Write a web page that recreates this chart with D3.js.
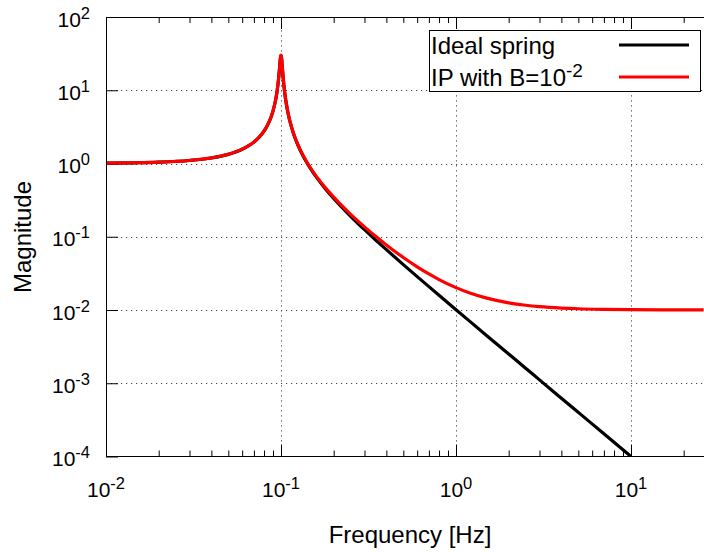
<!DOCTYPE html>
<html>
<head>
<meta charset="utf-8">
<script src="https://cdn.jsdelivr.net/npm/d3@7"></script>
<style>
  html, body { margin: 0; padding: 0; background: #fff; overflow: hidden; }
  svg { display: block; font-family: "Liberation Sans", Arial, Helvetica, sans-serif; }
</style>
</head>
<body>
<svg id="chart" width="704" height="552"></svg>
<script>
// ---- data ----
const frequency = [0.01,0.015,0.02,0.03,0.04,0.05,0.06,0.07,0.075,0.08,0.082,0.085,0.088,0.09,0.093,0.095,0.097,0.098,0.099,0.0995,0.1,0.1005,0.101,0.102,0.103,0.105,0.107,0.11,0.115,0.12,0.125,0.13,0.14,0.15,0.16,0.18,0.2,0.25,0.3,0.35,0.4,0.5,0.6,0.7,0.8,1,1.2,1.5,2,2.5,3,4,5,7,10,15,20,26];
const idealSpring = [1.0101,1.023,1.0417,1.0989,1.1905,1.3333,1.5625,1.957,2.279,2.766,3.037,3.585,4.385,5.185,7.187,9.706,14.74,19.32,25.77,28.76,30.0,28.75,25.70,19.10,14.41,9.278,6.726,4.703,3.084,2.266,1.775,1.449,1.041,0.800,0.641,0.4464,0.3333,0.1905,0.125,0.08889,0.0667,0.04167,0.02857,0.02083,0.01587,0.0101,0.006993,0.004464,0.002506,0.001603,0.001112,0.0006254,0.0004002,0.0002041,0.0001,null,null,null];
const ipWithB = [1.0102,1.0232,1.0421,1.0999,1.1924,1.3367,1.5681,1.966,2.292,2.784,3.057,3.611,4.419,5.227,7.249,9.794,14.88,19.51,26.02,29.04,30.3,29.04,25.96,19.30,14.56,9.380,6.803,4.760,3.125,2.299,1.803,1.4735,1.0615,0.818,0.6574,0.4609,0.3467,0.2024,0.1363,0.09978,0.07733,0.05208,0.03886,0.03104,0.02603,0.0202,0.01706,0.01451,0.01253,0.01162,0.01112,0.01063,0.0104,0.01021,0.0101,0.01005,0.01003,0.01002];
const xMajorTicks = [0.01, 0.1, 1, 10];
const xTickExponents = ["-2", "-1", "0", "1"];
const yMajorTicks = [100, 10, 1, 0.1, 0.01, 0.001, 0.0001];
const yTickExponents = ["2", "1", "0", "-1", "-2", "-3", "-4"];
const xMinorTicks = [0.02,0.03,0.04,0.05,0.06,0.07,0.08,0.09,0.2,0.3,0.4,0.5,0.6,0.7,0.8,0.9,2,3,4,5,6,7,8,9,20,30];
const seriesNames = ["Ideal spring", "IP with B=10"];
const seriesSup = ["", "-2"];
const seriesColors = ["#000000", "#ff0000"];

// ---- layout ----
const mLeft = 106, mTop = 17, mBottom = 456.5, plotRight = 712;
const svg = d3.select("#chart");

const x = d3.scaleLog().domain([0.01, 10]).range([mLeft, 631]);
const y = d3.scaleLog().domain([1e-4, 100]).range([mBottom, mTop]);

// clip
svg.append("defs").append("clipPath").attr("id", "plotclip")
  .append("rect").attr("x", mLeft).attr("y", mTop).attr("width", plotRight - mLeft).attr("height", mBottom - mTop);

// grid
const grid = svg.append("g").attr("stroke", "#444").attr("stroke-width", 1).attr("stroke-dasharray", "1.2,3.8");
grid.selectAll("line.gx").data(xMajorTicks.filter(d => d > 0.01)).enter().append("line")
  .attr("x1", d => Math.round(x(d)) + 0.5).attr("x2", d => Math.round(x(d)) + 0.5)
  .attr("y1", mBottom).attr("y2", mTop);
grid.selectAll("line.gy").data(yMajorTicks.filter(d => d < 100 && d > 1e-4)).enter().append("line")
  .attr("y1", d => Math.round(y(d)) + 0.5).attr("y2", d => Math.round(y(d)) + 0.5)
  .attr("x1", mLeft).attr("x2", plotRight);

// axes via d3.axis (ticks inward)
const fmtNone = () => "";
svg.append("g").attr("transform", `translate(0,${mBottom})`)
  .call(d3.axisBottom(x).tickValues(xMajorTicks).tickSizeInner(-12).tickSizeOuter(0).tickFormat(fmtNone))
  .call(g => g.select(".domain").remove());
svg.append("g").attr("transform", `translate(0,${mBottom})`)
  .call(d3.axisBottom(x).tickValues(xMinorTicks).tickSizeInner(-6).tickSizeOuter(0).tickFormat(fmtNone))
  .call(g => g.select(".domain").remove());
svg.append("g").attr("transform", `translate(0,${mTop})`)
  .call(d3.axisTop(x).tickValues(xMajorTicks).tickSizeInner(-12).tickSizeOuter(0).tickFormat(fmtNone))
  .call(g => g.select(".domain").remove());
svg.append("g").attr("transform", `translate(0,${mTop})`)
  .call(d3.axisTop(x).tickValues(xMinorTicks).tickSizeInner(-6).tickSizeOuter(0).tickFormat(fmtNone))
  .call(g => g.select(".domain").remove());
svg.append("g").attr("transform", `translate(${mLeft},0)`)
  .call(d3.axisLeft(y).tickValues(yMajorTicks).tickSizeInner(-12).tickSizeOuter(0).tickFormat(fmtNone))
  .call(g => g.select(".domain").remove());
svg.selectAll(".tick line").attr("stroke", "#000").attr("stroke-width", 1);

// tick labels
const xl = svg.append("g").attr("font-size", 21).attr("fill", "#000").attr("text-anchor", "middle");
xMajorTicks.forEach((v, i) => {
  const t = xl.append("text").attr("x", x(v)).attr("y", 497);
  t.append("tspan").text("10");
  t.append("tspan").attr("font-size", 16.5).attr("dy", -8).text(xTickExponents[i]);
});
const yl = svg.append("g").attr("font-size", 21).attr("fill", "#000").attr("text-anchor", "end");
yMajorTicks.forEach((v, i) => {
  const t = yl.append("text").attr("x", 90).attr("y", y(v) + 9.5);
  t.append("tspan").text("10");
  t.append("tspan").attr("font-size", 16.5).attr("dy", -8).text(yTickExponents[i]);
});

// axis titles
svg.append("text").attr("x", 410).attr("y", 543).attr("text-anchor", "middle")
  .attr("font-size", 24).text("Frequency [Hz]");
svg.append("text").attr("transform", "translate(31,237) rotate(-90)").attr("text-anchor", "middle")
  .attr("font-size", 24).text("Magnitude");

// curves
const line = d3.line()
  .defined(d => d[1] != null)
  .curve(d3.curveMonotoneX)
  .x(d => x(d[0])).y(d => y(d[1]));
const plot = svg.append("g").attr("clip-path", "url(#plotclip)");
[idealSpring, ipWithB].forEach((vals, i) => {
  plot.append("path")
    .datum(frequency.map((f, k) => [f, vals[k]]))
    .attr("fill", "none").attr("stroke", seriesColors[i]).attr("stroke-width", 3.2)
    .attr("stroke-linejoin", "round")
    .attr("d", line);
});

// border (left, bottom, top)
svg.append("path")
  .attr("d", `M${plotRight},${mTop + 0.5}H${mLeft + 0.5}V${mBottom}H${plotRight}`)
  .attr("fill", "none").attr("stroke", "#000").attr("stroke-width", 1);

// legend
const lg = svg.append("g");
lg.append("rect").attr("x", 429.5).attr("y", 30.5).attr("width", 271).attr("height", 61)
  .attr("fill", "#fff").attr("stroke", "#000").attr("stroke-width", 1);
seriesNames.forEach((name, i) => {
  const yy = 45 + i * 32;
  const t = lg.append("text").attr("x", 431).attr("y", yy + 9).attr("font-size", 24);
  t.append("tspan").text(name);
  if (seriesSup[i]) t.append("tspan").attr("font-size", 19).attr("dy", -9).text(seriesSup[i]);
  lg.append("line").attr("x1", 619).attr("x2", 689).attr("y1", yy).attr("y2", yy)
    .attr("stroke", seriesColors[i]).attr("stroke-width", 3.2);
});
</script>
</body>
</html>
